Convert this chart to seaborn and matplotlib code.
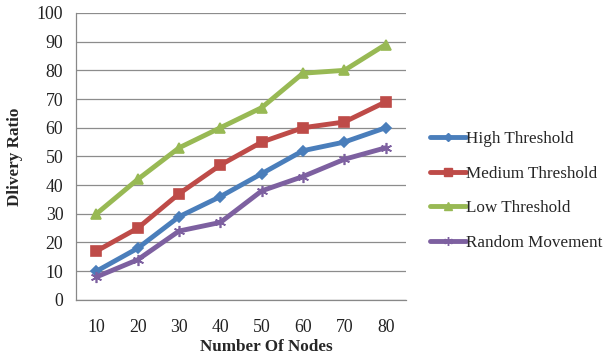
import matplotlib
matplotlib.use("Agg")
import matplotlib.pyplot as plt
import seaborn as sns
import pandas as pd
from matplotlib.ticker import FixedLocator

nodes = ["10", "20", "30", "40", "50", "60", "70", "80"]
high = [10, 18, 29, 36, 44, 52, 55, 60]
medium = [17, 25, 37, 47, 55, 60, 62, 69]
low = [30, 42, 53, 60, 67, 79, 80, 89]
random_mv = [8, 14, 24, 27, 38, 43, 49, 53]
series_names = ["High Threshold", "Medium Threshold", "Low Threshold", "Random Movement"]
colors = ["#4A7EBB", "#BE4B48", "#98B954", "#7D60A0"]
markers = ["D", "s", "^", (6, 2, 0)]
msizes = [5, 7, 7, 8]

rows = []
for name, vals in zip(series_names, [high, medium, low, random_mv]):
    for i, v in enumerate(vals):
        rows.append({"pos": i, "value": v, "series": name})
df = pd.DataFrame(rows)

sns.set_style("white")
plt.rcParams["font.family"] = ["Liberation Serif", "DejaVu Serif"]

fig = plt.figure(figsize=(6.11, 3.6), dpi=100)
ax = fig.add_axes([0.124, 0.167, 0.541, 0.797])

for name, c, m, ms in zip(series_names, colors, markers, msizes):
    sub = df[df["series"] == name]
    sns.lineplot(data=sub, x="pos", y="value", ax=ax, color=c, linewidth=3.5,
                 marker=m, markersize=ms, markeredgecolor=c, markerfacecolor=c,
                 markeredgewidth=1.2, label=name, legend=False)

ax.set_xlim(-0.5, 7.5)
ax.set_ylim(0, 100)
ax.set_yticks(range(0, 101, 10))
ax.set_xticks(range(len(nodes)))
ax.set_xticklabels(nodes)
ax.xaxis.set_minor_locator(FixedLocator([i - 0.5 for i in range(len(nodes) + 1)]))
ax.tick_params(axis="x", which="major", length=0, pad=14, labelsize=12.8, colors="#222222")
ax.tick_params(axis="x", which="minor", length=5, width=0.8, color="#888888", direction="out")
ax.tick_params(axis="y", which="major", length=5, width=0.8, color="#888888",
               direction="out", labelsize=12.8, labelcolor="#222222", pad=4)
ax.grid(axis="y", color="#8c8c8c", linewidth=0.9)
ax.set_axisbelow(True)
for s in ["top", "right"]:
    ax.spines[s].set_visible(False)
for s in ["left", "bottom"]:
    ax.spines[s].set_color("#888888")
    ax.spines[s].set_linewidth(0.9)

ax.set_xlabel("Number Of Nodes", fontsize=12.3, fontweight="bold")
ax.xaxis.set_label_coords(0.576, -0.135)
ax.set_ylabel("Dlivery Ratio", fontsize=12.3, fontweight="bold", labelpad=10)

handles = [plt.Line2D([0], [0], color=c, linewidth=3.5, marker=m, markersize=ms * 0.8,
                      markerfacecolor=c, markeredgecolor=c)
           for c, m, ms in zip(colors, markers, msizes)]
fig.legend(handles, series_names, loc="upper left", bbox_to_anchor=(0.678, 0.678),
           frameon=False, fontsize=12.3, handlelength=2.1, handletextpad=0.05,
           labelspacing=1.08)

fig.savefig("out.png", dpi=100)
